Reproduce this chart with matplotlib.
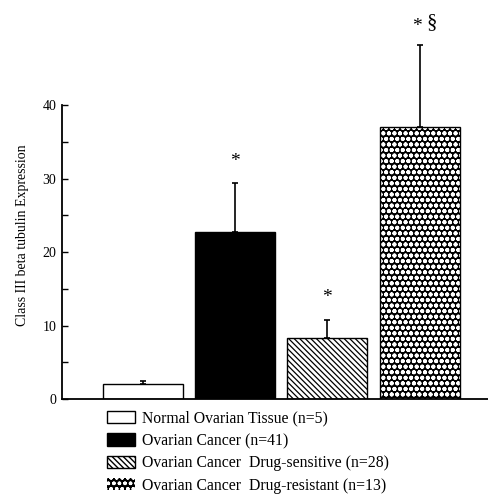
import matplotlib
matplotlib.use("Agg")
import matplotlib.pyplot as plt
from matplotlib.patches import Rectangle

plt.rcParams['font.family'] = ['Liberation Serif', 'DejaVu Serif']

categories = ["Normal Ovarian Tissue (n=5)",
              "Ovarian Cancer (n=41)",
              "Ovarian Cancer  Drug-sensitive (n=28)",
              "Ovarian Cancer  Drug-resistant (n=13)"]
means = [2.0, 22.8, 8.3, 37.0]
errors = [0.5, 6.6, 2.5, 11.2]
stars = ["", "*", "*", "*"]
sections = ["", "", "", "\u00a7"]
yticks = [0, 10, 20, 30, 40]

W, H = 488, 498
fig = plt.figure(figsize=(W / 100, H / 100), dpi=100)
ax = fig.add_axes([62 / W, 99 / H, 426 / W, 389 / H])

x = list(range(len(means)))
width = 0.867
faces = ['white', 'black', 'white', 'black']
hatches = [None, None, '\\\\\\\\\\\\', 'ooo']

handles = []
for i in x:
    if i == 3:
        with plt.rc_context({'hatch.color': 'white', 'hatch.linewidth': 1.3}):
            ax.bar(i, means[i], width, facecolor='black', linewidth=0,
                   hatch=hatches[i], zorder=2)
            proxy = Rectangle((0, 0), 1, 1, facecolor='black', linewidth=0,
                              hatch=hatches[i])
        ax.bar(i, means[i], width, fill=False, edgecolor='black', linewidth=1.0, zorder=3)
        handles.append(proxy)
    else:
        with plt.rc_context({'hatch.linewidth': 0.9}):
            b = ax.bar(i, means[i], width, facecolor=faces[i], edgecolor='black',
                       linewidth=1.0, hatch=hatches[i], zorder=2)
        handles.append(b[0])
    ax.errorbar(i, means[i], yerr=[[0], [errors[i]]], fmt='none', ecolor='black',
                elinewidth=1.2, capsize=2.5, capthick=1.2, zorder=1)

star_y = [0, 32.3, 13.8, 50.7]
for i in x:
    if stars[i]:
        ax.text(i - (0.03 if sections[i] else 0), star_y[i], stars[i], ha='center',
                va='center', fontsize=14)
    if sections[i]:
        ax.text(i + 0.13, 51.3, sections[i], ha='center', va='center', fontsize=15)

ax.set_xlim(-0.874, 3.742)
ax.set_ylim(0, 389 / 7.34)
ax.spines['top'].set_visible(False)
ax.spines['right'].set_visible(False)
ax.spines['left'].set_bounds(0, 40)
ax.spines['left'].set_linewidth(1.3)
ax.spines['bottom'].set_linewidth(1.3)
ax.set_xticks([])
ax.set_yticks(yticks)
ax.set_yticks([5, 15, 25, 35], minor=True)
ax.tick_params(axis='y', which='both', direction='in', length=4, width=1.0,
               labelsize=10, pad=4)
ax.set_ylabel("Class III beta tubulin Expression", fontsize=10)
ax.yaxis.set_label_coords(-0.078, 0.42)

fig.legend(handles, categories, loc='upper left', bbox_to_anchor=(102 / W, 1 - 406 / H),
           frameon=False, fontsize=11.3, handlelength=1.8, handleheight=0.83,
           handletextpad=0.45, labelspacing=0.4, borderpad=0.3, borderaxespad=0)

fig.savefig("out.png", dpi=100)
